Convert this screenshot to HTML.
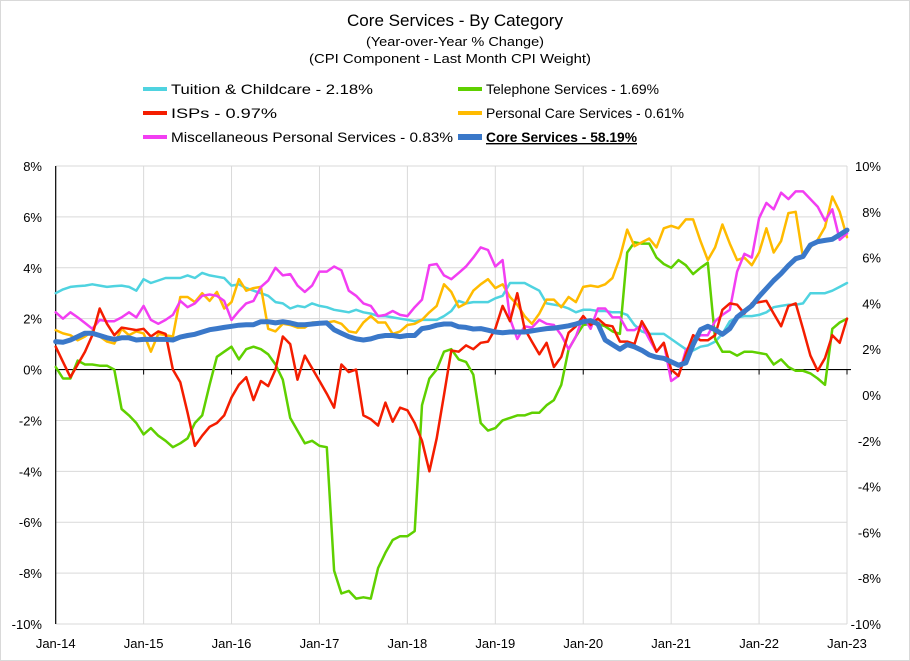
<!DOCTYPE html>
<html><head><meta charset="utf-8"><style>
html,body{margin:0;padding:0;background:#fff;}
svg{display:block;font-family:"Liberation Sans",sans-serif;}
</style></head><body>
<svg id="chart" width="910" height="661" viewBox="0 0 910 661" xmlns="http://www.w3.org/2000/svg">
<rect x="0.5" y="0.5" width="909" height="660" fill="#fff" stroke="#d9d9d9"/>
<text x="455" y="26" text-anchor="middle" font-size="17" textLength="216" lengthAdjust="spacingAndGlyphs">Core Services  - By Category</text>
<text x="455" y="46" text-anchor="middle" font-size="13" textLength="178" lengthAdjust="spacingAndGlyphs">(Year-over-Year % Change)</text>
<text x="450" y="63" text-anchor="middle" font-size="13" textLength="282" lengthAdjust="spacingAndGlyphs">(CPI Component - Last Month CPI Weight)</text>
<g id="legend"></g>
<g id="grid"></g>
<g id="axes"></g>
<g id="series"></g>
</svg>
<script>
const categories = ["Jan-14","Jan-15","Jan-16","Jan-17","Jan-18","Jan-19","Jan-20","Jan-21","Jan-22","Jan-23"];
const leftTicks = [8,6,4,2,0,-2,-4,-6,-8,-10];
const rightTicks = [10,8,6,4,2,0,-2,-4,-6,-8,-10];
const tuition = [3.0,3.15,3.25,3.28,3.3,3.35,3.3,3.25,3.28,3.3,3.25,3.1,3.55,3.4,3.5,3.6,3.6,3.6,3.7,3.6,3.8,3.7,3.65,3.6,3.3,3.35,3.2,3.1,3.0,2.9,2.65,2.6,2.4,2.5,2.45,2.6,2.5,2.45,2.35,2.3,2.25,2.35,2.25,2.2,2.1,2.1,2.05,2.0,1.95,1.9,1.95,1.95,1.95,2.1,2.3,2.7,2.6,2.65,2.65,2.65,2.8,2.9,3.4,3.4,3.4,3.25,3.1,2.6,2.55,2.5,2.4,2.25,2.35,2.35,2.3,2.3,2.25,2.25,2.15,1.75,1.5,1.4,1.4,1.4,1.2,1.0,0.8,0.75,0.9,0.95,1.1,1.4,1.9,2.05,2.1,2.1,2.15,2.25,2.45,2.5,2.55,2.55,2.6,3.0,3.0,3.0,3.1,3.25,3.4];
const telephone = [0.1,-0.35,-0.35,0.35,0.2,0.2,0.15,0.15,0.0,-1.55,-1.8,-2.1,-2.55,-2.3,-2.6,-2.8,-3.05,-2.9,-2.7,-2.1,-1.8,-0.6,0.5,0.7,0.9,0.4,0.8,0.9,0.8,0.6,0.2,-0.4,-1.9,-2.4,-2.9,-2.8,-3.0,-3.05,-7.9,-8.8,-8.7,-9.0,-8.95,-9.0,-7.8,-7.2,-6.7,-6.55,-6.55,-6.35,-1.4,-0.35,0.0,0.7,0.8,0.4,0.3,-0.2,-2.1,-2.4,-2.3,-2.0,-1.9,-1.8,-1.8,-1.7,-1.7,-1.4,-1.2,-0.6,0.8,1.3,1.75,1.8,1.8,1.7,1.5,1.4,4.6,5.0,4.95,4.95,4.4,4.15,4.0,4.3,4.1,3.75,4.0,4.2,1.2,0.7,0.7,0.55,0.7,0.7,0.65,0.6,0.2,0.4,0.1,-0.05,-0.05,-0.15,-0.35,-0.6,1.6,1.85,2.0];
const isps = [0.9,0.3,-0.3,0.2,0.7,1.35,2.4,1.8,1.35,1.65,1.6,1.55,1.6,1.3,1.5,1.4,0.0,-0.5,-1.7,-3.0,-2.6,-2.25,-2.1,-1.8,-1.1,-0.6,-0.3,-1.2,-0.45,-0.65,0.0,1.3,1.0,-0.4,0.55,0.05,-0.45,-0.95,-1.5,0.2,-0.1,0.0,-1.8,-1.95,-2.2,-1.3,-2.05,-1.5,-1.6,-2.1,-2.8,-4.0,-2.7,-1.0,0.75,0.7,0.95,0.8,1.05,1.1,1.6,2.5,1.9,3.0,1.6,1.1,0.6,1.05,0.1,0.5,1.45,1.7,2.1,1.75,2.0,1.75,1.7,1.1,1.1,1.0,1.9,1.4,0.7,1.05,0.0,-0.25,0.6,1.35,1.15,1.15,1.35,2.35,2.6,2.55,2.2,2.6,2.65,2.7,2.2,1.7,2.5,2.6,1.6,0.55,-0.05,0.45,1.35,1.05,2.0];
const personalCare = [1.55,1.42,1.35,1.15,1.3,1.5,1.3,1.1,1.02,1.6,1.35,1.5,1.42,0.7,1.4,1.35,1.3,2.85,2.85,2.65,3.0,2.7,3.05,2.4,2.65,3.55,3.1,3.2,3.25,1.6,1.5,1.8,1.75,1.65,1.65,1.85,1.85,1.85,1.9,1.8,1.5,1.45,1.85,2.1,1.85,1.85,1.4,1.5,1.75,1.8,1.95,2.25,2.5,3.35,3.05,2.45,2.6,3.1,3.35,3.55,3.2,3.35,2.85,2.55,2.1,1.8,2.2,2.75,2.75,2.45,2.85,2.65,3.25,3.3,3.25,3.35,3.6,4.4,5.5,4.85,5.0,5.15,4.8,5.55,5.65,5.55,5.9,5.9,5.05,4.3,4.8,5.7,4.95,4.3,4.4,4.1,4.6,5.55,4.6,5.05,6.15,6.2,4.4,4.8,5.1,5.6,6.8,6.2,5.2];
const miscPersonal = [2.25,2.0,2.25,2.05,1.83,1.6,1.95,1.9,1.9,2.05,2.25,2.05,2.5,1.95,1.8,1.95,2.15,2.7,2.45,2.6,2.9,2.95,2.9,2.7,1.95,2.3,2.6,2.7,3.25,3.5,4.0,3.7,3.75,3.3,3.05,3.3,3.85,3.85,4.05,3.9,3.1,2.9,2.6,2.5,2.1,2.15,2.3,2.15,2.1,2.45,2.75,4.1,4.15,3.7,3.55,3.8,4.05,4.4,4.8,4.7,4.05,4.3,2.0,1.2,1.7,1.65,1.95,1.8,1.75,1.35,0.8,1.3,2.1,1.6,2.4,2.4,2.05,2.05,1.55,1.55,1.75,1.2,0.7,1.05,-0.45,-0.25,0.75,1.1,1.35,1.35,1.9,2.15,2.35,3.85,4.55,4.4,5.95,6.55,6.3,6.95,6.7,7.0,7.0,6.7,6.4,5.85,6.3,5.1,5.35];
const coreServices = [2.33,2.3,2.4,2.55,2.7,2.7,2.6,2.5,2.43,2.5,2.5,2.4,2.43,2.43,2.43,2.43,2.4,2.53,2.6,2.65,2.75,2.85,2.9,2.95,3.0,3.05,3.07,3.07,3.2,3.2,3.15,3.2,3.15,3.07,3.07,3.1,3.13,3.15,2.85,2.7,2.55,2.45,2.4,2.45,2.55,2.6,2.6,2.55,2.6,2.6,2.9,2.95,3.05,3.1,3.1,2.98,2.95,2.88,2.9,2.83,2.75,2.72,2.75,2.75,2.75,2.8,2.85,2.9,2.92,2.97,3.02,3.1,3.2,3.25,3.1,2.4,2.2,2.0,2.2,2.1,1.95,1.75,1.65,1.6,1.45,1.3,1.4,2.2,2.85,3.0,2.85,2.65,2.9,3.4,3.65,3.9,4.3,4.65,5.0,5.3,5.65,5.95,6.05,6.55,6.7,6.75,6.8,7.0,7.2];

const NS="http://www.w3.org/2000/svg";
const X0=55.7, X1=847, Y0=166, Y1=624;
const xScale = m => X0 + (X1-X0)*m/108;
const yLeft = v => Y0 + (8-v)*(Y1-Y0)/18;
const yRight = v => Y0 + (10-v)*(Y1-Y0)/20;
function mk(tag, attrs, parent){const e=document.createElementNS(NS,tag);for(const k in attrs)e.setAttribute(k,attrs[k]);parent.appendChild(e);return e;}

const grid=document.getElementById('grid'), axes=document.getElementById('axes'), series=document.getElementById('series'), legend=document.getElementById('legend');
leftTicks.forEach(t=>{
  const y=yLeft(t);
  const l=mk('line',{x1:X0,x2:X1,y1:y,y2:y,stroke:'#d9d9d9','stroke-width':1},grid);
  
  
  const tx=mk('text',{x:42,y:y+5,'text-anchor':'end','font-size':13},axes);
  tx.textContent=t+'%';
  
  
});
rightTicks.forEach(t=>{
  const y=yRight(t);
  const tx=mk('text',{x:881,y:y+5,'text-anchor':'end','font-size':13},axes);
  tx.textContent=t+'%';
  
  
});
categories.forEach((c,i)=>{
  const x=xScale(i*12);
  if(i>0){
    const l=mk('line',{x1:x,x2:x,y1:Y0,y2:Y1,stroke:'#d9d9d9','stroke-width':1},grid);
    
    
  }
  const tk=mk('line',{x1:x,x2:x,y1:yLeft(0),y2:yLeft(0)+5,stroke:'#000','stroke-width':1},axes);
  
  
  const tx=mk('text',{x:x,y:648,'text-anchor':'middle','font-size':13},axes);
  tx.textContent=c;
  
  
});
const ax=mk('line',{x1:X0,x2:X0,y1:Y0,y2:Y1,stroke:'#000','stroke-width':1.2},axes);


const zx=mk('line',{x1:X0,x2:X1+4,y1:yLeft(0),y2:yLeft(0),stroke:'#000','stroke-width':1.2},axes);



function drawSeries(arr, color, w, yf, name){
  const d=arr.map((v,i)=>(i?'L':'M')+xScale(i).toFixed(1)+','+yf(v).toFixed(1)).join('');
  const p=mk('path',{d:d,fill:'none',stroke:color,'stroke-width':w,'stroke-linejoin':'round','stroke-linecap':'round'},series);
  
  
}
drawSeries(tuition,'#4fd3e0',2.5,yLeft,'tuition-line');
drawSeries(telephone,'#5fd000',2.5,yLeft,'telephone-line');
drawSeries(personalCare,'#ffbb00',2.5,yLeft,'personal-care-line');
drawSeries(miscPersonal,'#f23ef2',2.5,yLeft,'misc-personal-line');
drawSeries(isps,'#f41d00',2.5,yLeft,'isps-line');
drawSeries(coreServices,'#3a78c9',5,yRight,'core-services-line');

const legendItems=[
 {t:'Tuition & Childcare - 2.18%',c:'#4fd3e0',x:143,y:89,w:202,lw:4,n:'legend-tuition'},
 {t:'Telephone Services - 1.69%',c:'#5fd000',x:458,y:89,w:173,lw:4,n:'legend-telephone'},
 {t:'ISPs - 0.97%',c:'#f41d00',x:143,y:113,w:106,lw:4,n:'legend-isps'},
 {t:'Personal Care Services - 0.61%',c:'#ffbb00',x:458,y:113,w:198,lw:4,n:'legend-personal-care'},
 {t:'Miscellaneous Personal Services - 0.83%',c:'#f23ef2',x:143,y:137,w:282,lw:4,n:'legend-misc-personal'},
 {t:'Core Services - 58.19%',c:'#3a78c9',x:458,y:137,w:151,lw:6,n:'legend-core-services',b:true}
];
legendItems.forEach(it=>{
  const g=mk('g',{},legend);
  
  
  mk('line',{x1:it.x,x2:it.x+24,y1:it.y,y2:it.y,stroke:it.c,'stroke-width':it.lw},g);
  const tx=mk('text',{x:it.x+28,y:it.y+5,'font-size':14,textLength:it.w,lengthAdjust:'spacingAndGlyphs'},g);
  if(it.b){tx.setAttribute('font-weight','bold');tx.setAttribute('text-decoration','underline');}
  tx.textContent=it.t;
});
</script>
</body></html>
